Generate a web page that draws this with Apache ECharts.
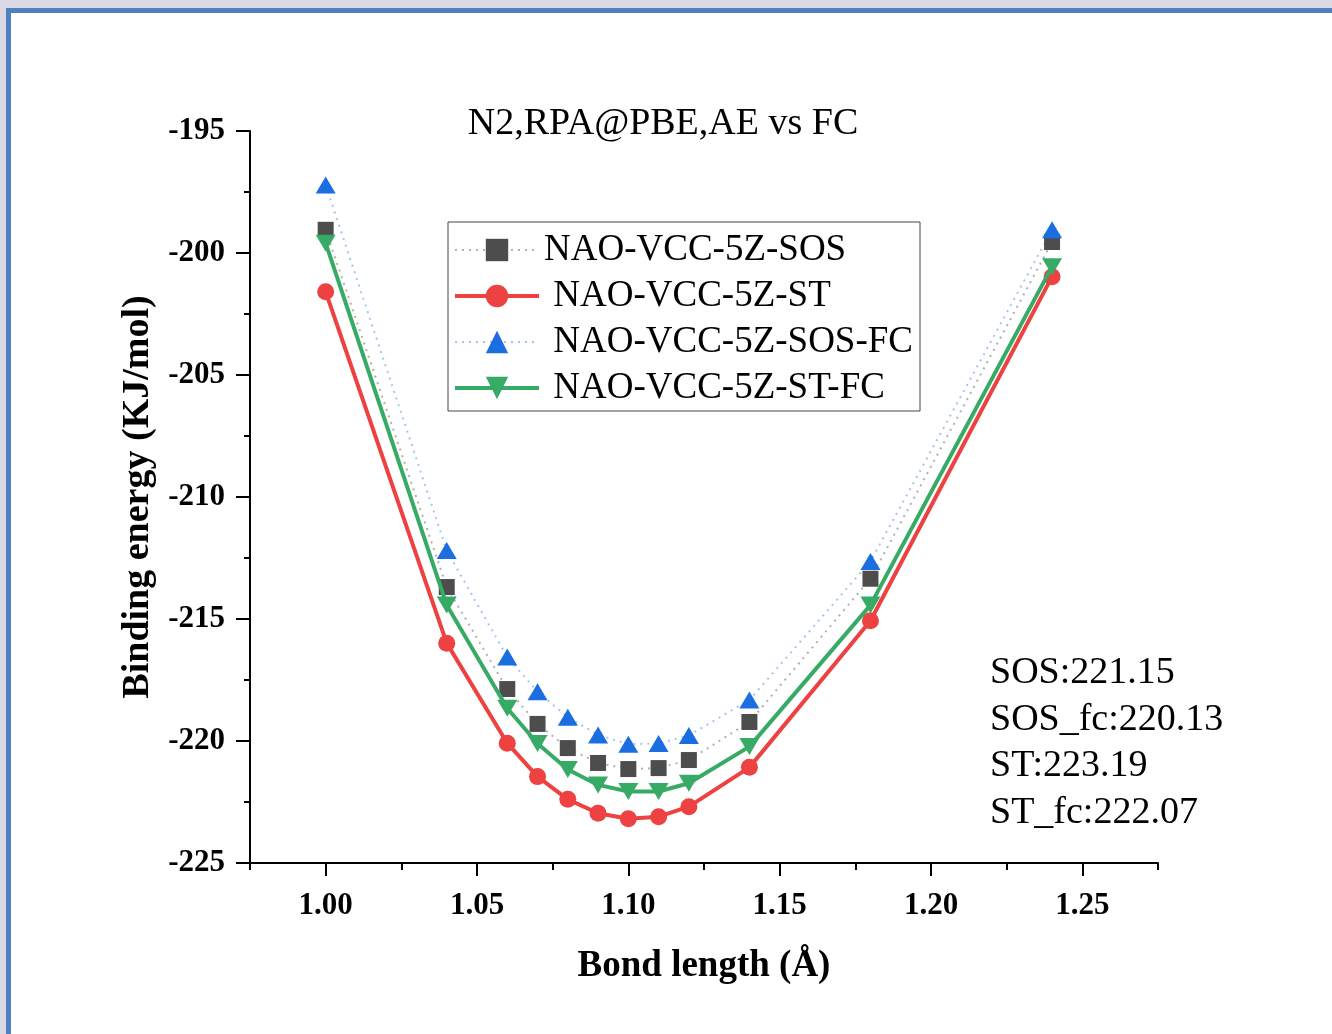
<!DOCTYPE html>
<html>
<head>
<meta charset="utf-8">
<script src="https://cdn.jsdelivr.net/npm/echarts@6/dist/echarts.min.js"></script>
<style>
  html, body { margin: 0; padding: 0; overflow: hidden; background: #dcd8e6; }
  #frame { position: absolute; left: 6px; top: 8px; width: 2000px; height: 2000px;
           background: #fff; border-left: 5px solid #4f81bf; border-top: 5px solid #4f81bf; }
  #main { position: absolute; left: 0; top: 0; width: 1332px; height: 1034px; }
</style>
</head>
<body>
<div id="frame"></div>
<div id="main"></div>
<script>
// data
var bondLength = [1.00, 1.04, 1.06, 1.07, 1.08, 1.09, 1.10, 1.11, 1.12, 1.14, 1.18, 1.24];
var sos   = [-199.05, -213.69, -217.87, -219.30, -220.29, -220.90, -221.15, -221.11, -220.78, -219.22, -213.35, -199.55];
var st    = [-201.59, -215.99, -220.09, -221.46, -222.39, -222.96, -223.19, -223.10, -222.69, -221.08, -215.07, -200.97];
var sosFc = [-197.21, -212.19, -216.56, -217.98, -219.03, -219.75, -220.13, -220.10, -219.77, -218.32, -212.64, -199.05];
var stFc  = [-199.60, -214.43, -218.66, -220.10, -221.17, -221.80, -222.07, -222.07, -221.73, -220.23, -214.43, -200.56];
var xMajor = [1.00, 1.05, 1.10, 1.15, 1.20, 1.25];
var xMinor = [0.975, 1.025, 1.075, 1.125, 1.175, 1.225, 1.275];
var notes = ['SOS:221.15', 'SOS_fc:220.13', 'ST:223.19', 'ST_fc:222.07'];

function pairs(ys) {
    return bondLength.map(function (x, i) { return [x, ys[i]]; });
}

var serif = 'Liberation Serif';
var chart = echarts.init(document.getElementById('main'));

var option = {
    backgroundColor: 'transparent',
    animation: false,
    grid: { left: 250, right: 174, top: 131, bottom: 171 },
    legend: {
        orient: 'vertical',
        left: 448, top: 222,
        padding: [5, 7, 0, 5],
        itemGap: 0,
        itemWidth: 84, itemHeight: 28,
        borderColor: '#444', borderWidth: 1,
        textStyle: { fontFamily: serif, fontSize: 37, color: '#000', lineHeight: 46 },
        data: [
            { name: 'NAO-VCC-5Z-SOS', lineStyle: { width: 2 } },
            { name: ' NAO-VCC-5Z-ST', lineStyle: { width: 4 } },
            { name: ' NAO-VCC-5Z-SOS-FC', lineStyle: { width: 2 } },
            { name: ' NAO-VCC-5Z-ST-FC', lineStyle: { width: 4 } }
        ]
    },
    xAxis: [
        {
            type: 'value', min: 0.975, max: 1.275,
            name: 'Bond length (Å)', nameLocation: 'middle', nameGap: 85,
            nameTextStyle: { fontFamily: serif, fontSize: 37, fontWeight: 'bold', color: '#000' },
            axisLine: { lineStyle: { color: '#000', width: 2 } },
            axisTick: { customValues: xMajor, length: 13, lineStyle: { color: '#000', width: 2 } },
            axisLabel: {
                customValues: xMajor, margin: 27,
                fontFamily: serif, fontSize: 31, fontWeight: 'bold', color: '#000',
                formatter: function (v) { return v.toFixed(2); }
            },
            splitLine: { show: false }
        },
        {
            type: 'value', min: 0.975, max: 1.275, position: 'bottom',
            axisLine: { show: false },
            axisTick: { customValues: xMinor, length: 7, lineStyle: { color: '#000', width: 2 } },
            axisLabel: { show: false },
            splitLine: { show: false }
        }
    ],
    yAxis: {
        type: 'value', min: -225, max: -195, interval: 5,
        name: 'Binding energy (KJ/mol)', nameLocation: 'middle', nameGap: 90,
        nameTextStyle: { fontFamily: serif, fontSize: 38, fontWeight: 'bold', color: '#000' },
        axisLine: { show: true, lineStyle: { color: '#000', width: 2 } },
        axisTick: { show: true, length: 14, lineStyle: { color: '#000', width: 2 } },
        minorTick: { show: true, splitNumber: 2, length: 6, lineStyle: { color: '#000', width: 2 } },
        axisLabel: { margin: 25, fontFamily: serif, fontSize: 31, fontWeight: 'bold', color: '#000' },
        splitLine: { show: false }
    },
    series: [
        {
            name: 'NAO-VCC-5Z-SOS', type: 'line', data: pairs(sos),
            symbol: 'rect', symbolSize: 16,
            itemStyle: { color: '#4d4d4d' },
            lineStyle: { color: '#b0b0b0', width: 2, type: [2, 5] },
            z: 3
        },
        {
            name: ' NAO-VCC-5Z-ST', type: 'line', data: pairs(st),
            symbol: 'circle', symbolSize: 17,
            itemStyle: { color: '#ee4141' },
            lineStyle: { color: '#ee4141', width: 4 },
            z: 2
        },
        {
            name: ' NAO-VCC-5Z-SOS-FC', type: 'line', data: pairs(sosFc),
            symbol: 'triangle', symbolSize: [20, 17],
            itemStyle: { color: '#1b6ee0' },
            lineStyle: { color: '#a6c5f0', width: 2, type: [2, 5] },
            z: 3
        },
        {
            name: ' NAO-VCC-5Z-ST-FC', type: 'line', data: pairs(stFc),
            symbol: 'triangle', symbolSize: [20, 17], symbolRotate: 180,
            itemStyle: { color: '#37ab66' },
            lineStyle: { color: '#37ab66', width: 4 },
            z: 4
        }
    ],
    graphic: [
        {
            type: 'text', x: 663, y: 124,
            style: { text: 'N2,RPA@PBE,AE vs FC', fontFamily: serif, fontSize: 38, fill: '#000',
                     textAlign: 'center', textVerticalAlign: 'middle' }
        }
    ].concat(notes.map(function (t, i) {
        return {
            type: 'text', x: 990, y: 673 + i * 46.7,
            style: { text: t, fontFamily: serif, fontSize: 38, fill: '#000', textVerticalAlign: 'middle' }
        };
    }))
};

chart.setOption(option);
</script>
</body>
</html>
